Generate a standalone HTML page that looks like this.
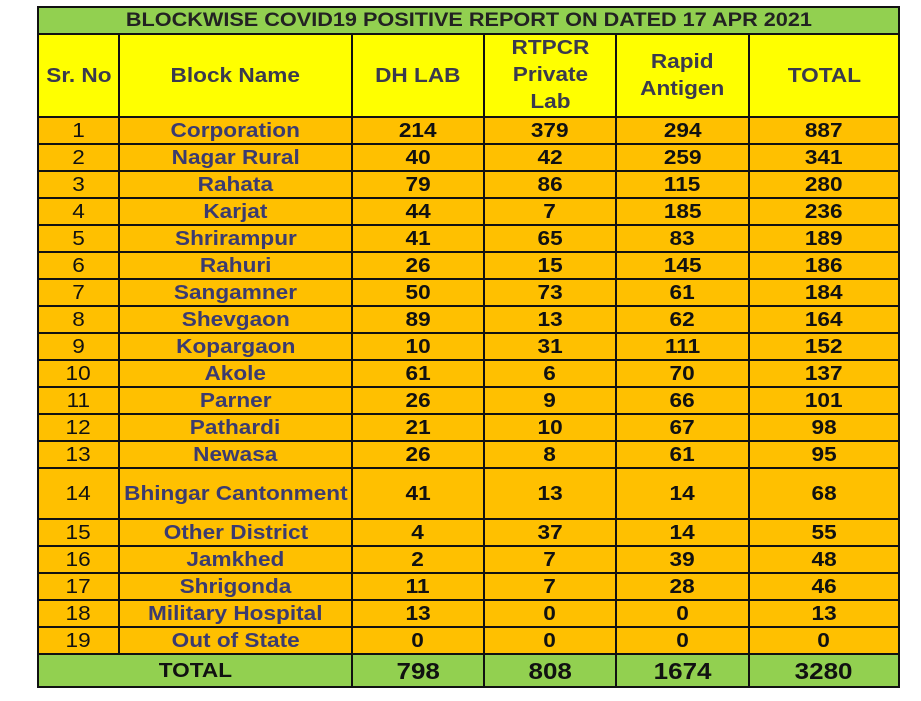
<!DOCTYPE html>
<html><head><meta charset="utf-8"><style>
body{margin:0;background:#fff;width:921px;height:701px;overflow:hidden}
table{position:absolute;left:37px;top:6px;border-collapse:collapse;table-layout:fixed;font-family:"Liberation Sans",Arial,sans-serif;font-weight:bold;font-size:20px}
td{border:2px solid #111;text-align:center;padding:0;line-height:20px;color:#111;overflow:visible;white-space:nowrap}
td span{display:inline-block;transform:scaleX(1.13)}
tr.t td{background:#92d050;height:25px;font-size:19px;color:#222}
tr.t td span{transform:scaleX(1.14)}
tr.h td{background:#ffff00;height:78px;color:#3a3a4e}
tr.r td{background:#ffc000;height:25px}
tr.r td.s{font-weight:normal}
tr.r td.n{color:#3b3b70}
tr.b td{height:49px}
tr.f td{background:#92d050;height:31px;font-size:23px}
tr.f td.l{font-size:20px}
</style></head><body>
<table>
<colgroup><col style="width:81px"><col style="width:233px"><col style="width:132px"><col style="width:132px"><col style="width:133px"><col style="width:150px"></colgroup>
<tr class="t"><td colspan="6"><span>BLOCKWISE COVID19 POSITIVE REPORT ON DATED 17 APR 2021</span></td></tr>
<tr class="h"><td><span>Sr. No</span></td><td><span>Block Name</span></td><td><span>DH LAB</span></td><td style="line-height:27px;vertical-align:top"><span>RTPCR<br>Private<br>Lab</span></td><td style="line-height:27px"><span>Rapid<br>Antigen</span></td><td><span>TOTAL</span></td></tr>
<tr class="r"><td class="s"><span>1</span></td><td class="n"><span>Corporation</span></td><td><span>214</span></td><td><span>379</span></td><td><span>294</span></td><td><span>887</span></td></tr>
<tr class="r"><td class="s"><span>2</span></td><td class="n"><span>Nagar Rural</span></td><td><span>40</span></td><td><span>42</span></td><td><span>259</span></td><td><span>341</span></td></tr>
<tr class="r"><td class="s"><span>3</span></td><td class="n"><span>Rahata</span></td><td><span>79</span></td><td><span>86</span></td><td><span>115</span></td><td><span>280</span></td></tr>
<tr class="r"><td class="s"><span>4</span></td><td class="n"><span>Karjat</span></td><td><span>44</span></td><td><span>7</span></td><td><span>185</span></td><td><span>236</span></td></tr>
<tr class="r"><td class="s"><span>5</span></td><td class="n"><span>Shrirampur</span></td><td><span>41</span></td><td><span>65</span></td><td><span>83</span></td><td><span>189</span></td></tr>
<tr class="r"><td class="s"><span>6</span></td><td class="n"><span>Rahuri</span></td><td><span>26</span></td><td><span>15</span></td><td><span>145</span></td><td><span>186</span></td></tr>
<tr class="r"><td class="s"><span>7</span></td><td class="n"><span>Sangamner</span></td><td><span>50</span></td><td><span>73</span></td><td><span>61</span></td><td><span>184</span></td></tr>
<tr class="r"><td class="s"><span>8</span></td><td class="n"><span>Shevgaon</span></td><td><span>89</span></td><td><span>13</span></td><td><span>62</span></td><td><span>164</span></td></tr>
<tr class="r"><td class="s"><span>9</span></td><td class="n"><span>Kopargaon</span></td><td><span>10</span></td><td><span>31</span></td><td><span>111</span></td><td><span>152</span></td></tr>
<tr class="r"><td class="s"><span>10</span></td><td class="n"><span>Akole</span></td><td><span>61</span></td><td><span>6</span></td><td><span>70</span></td><td><span>137</span></td></tr>
<tr class="r"><td class="s"><span>11</span></td><td class="n"><span>Parner</span></td><td><span>26</span></td><td><span>9</span></td><td><span>66</span></td><td><span>101</span></td></tr>
<tr class="r"><td class="s"><span>12</span></td><td class="n"><span>Pathardi</span></td><td><span>21</span></td><td><span>10</span></td><td><span>67</span></td><td><span>98</span></td></tr>
<tr class="r"><td class="s"><span>13</span></td><td class="n"><span>Newasa</span></td><td><span>26</span></td><td><span>8</span></td><td><span>61</span></td><td><span>95</span></td></tr>
<tr class="r b"><td class="s"><span>14</span></td><td class="n"><span>Bhingar Cantonment</span></td><td><span>41</span></td><td><span>13</span></td><td><span>14</span></td><td><span>68</span></td></tr>
<tr class="r"><td class="s"><span>15</span></td><td class="n"><span>Other District</span></td><td><span>4</span></td><td><span>37</span></td><td><span>14</span></td><td><span>55</span></td></tr>
<tr class="r"><td class="s"><span>16</span></td><td class="n"><span>Jamkhed</span></td><td><span>2</span></td><td><span>7</span></td><td><span>39</span></td><td><span>48</span></td></tr>
<tr class="r"><td class="s"><span>17</span></td><td class="n"><span>Shrigonda</span></td><td><span>11</span></td><td><span>7</span></td><td><span>28</span></td><td><span>46</span></td></tr>
<tr class="r"><td class="s"><span>18</span></td><td class="n"><span>Military Hospital</span></td><td><span>13</span></td><td><span>0</span></td><td><span>0</span></td><td><span>13</span></td></tr>
<tr class="r"><td class="s"><span>19</span></td><td class="n"><span>Out of State</span></td><td><span>0</span></td><td><span>0</span></td><td><span>0</span></td><td><span>0</span></td></tr>
<tr class="f"><td colspan="2" class="l"><span>TOTAL</span></td><td><span>798</span></td><td><span>808</span></td><td><span>1674</span></td><td><span>3280</span></td></tr>
</table>
</body></html>
